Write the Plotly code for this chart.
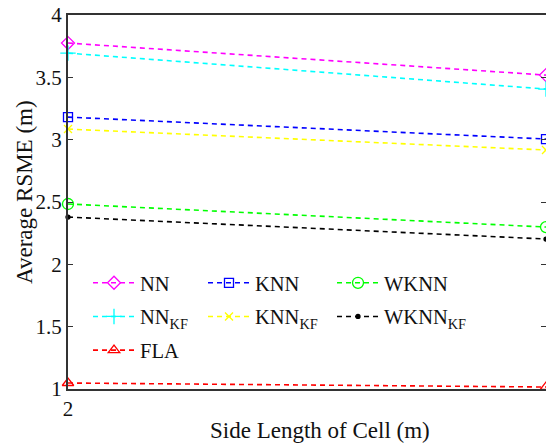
import plotly.graph_objects as go

x_vals = [2, 4]
names = ["NN", "KNN", "WKNN", "NN<sub>KF</sub>", "KNN<sub>KF</sub>", "WKNN<sub>KF</sub>", "FLA"]
nn = [3.775, 3.518]
knn = [3.181, 3.005]
wknn = [2.484, 2.299]
nn_kf = [3.694, 3.406]
knn_kf = [3.085, 2.917]
wknn_kf = [2.379, 2.203]
fla = [1.048, 1.016]
series = [nn, knn, wknn, nn_kf, knn_kf, wknn_kf, fla]
colors = ["#ff00ff", "#0000ff", "#00ff00", "#00ffff", "#ffff00", "#000000", "#ff0000"]
symbols = ["diamond-open", "square-open", "circle-open", "cross-thin-open", "x-thin-open", "circle", "triangle-up-open"]
sizes = [10, 9, 11, 11, 8, 4, 10]
legend_col = ["legend", "legend2", "legend3", "legend", "legend2", "legend3", "legend"]

FONT = "Liberation Serif"
fig = go.Figure()
for i, (n, s, c, sym, sz, lg) in enumerate(zip(names, series, colors, symbols, sizes, legend_col)):
    fig.add_trace(go.Scatter(
        x=x_vals, y=s, name=n, mode="lines+markers",
        line=dict(color=c, width=1.6, dash="5px,4px"),
        marker=dict(symbol=sym, size=sz, color=c, line=dict(color=c, width=1.3)),
        cliponaxis=False, legend=lg, legendgroup="g%d" % i,
    ))
# invisible trace to carry right-side ticks
fig.add_trace(go.Scatter(x=x_vals, y=[None, None], yaxis="y2", showlegend=False, hoverinfo="skip"))

def leg(xpx):
    return dict(orientation="v", x=(xpx - 68) / 478, y=0.337, xanchor="left", yanchor="top",
                bgcolor="rgba(0,0,0,0)", itemwidth=42, tracegroupgap=4,
                font=dict(family=FONT, size=20.5, color="#111"))

fig.update_layout(
    width=546, height=443,
    margin=dict(l=68, r=0, t=15, b=54),
    paper_bgcolor="white", plot_bgcolor="white",
    font=dict(family=FONT, size=20, color="#111"),
    xaxis=dict(range=[2, 4.0], tickvals=[2], ticktext=["2"], showgrid=False, zeroline=False,
               showline=True, linecolor="#333", linewidth=2, mirror=True,
               ticks="inside", ticklen=5, tickcolor="#333",
               tickfont=dict(family=FONT, size=21, color="#111")),
    yaxis=dict(range=[1, 4], tickvals=[1, 1.5, 2, 2.5, 3, 3.5, 4], ticktext=["1", "1.5", "2", "2.5", "3", "3.5", "4"],
               showgrid=False, zeroline=False, showline=True, linecolor="#333", linewidth=2,
               ticks="inside", ticklen=5, tickcolor="#333",
               tickfont=dict(family=FONT, size=21, color="#111")),
    yaxis2=dict(range=[1, 4], overlaying="y", side="right", showline=False, showgrid=False, zeroline=False,
                tickvals=[1, 1.5, 2, 2.5, 3, 3.5, 4], ticks="inside", ticklen=5, tickcolor="#333",
                showticklabels=False),
    legend=leg(88), legend2=leg(203), legend3=leg(332),
    annotations=[
        dict(text="Average RSME (m)", textangle=-90, xref="paper", yref="paper",
             x=(25 - 68) / 478, y=0.527, xanchor="center", yanchor="middle", showarrow=False,
             font=dict(family=FONT, size=23, color="#111")),
        dict(text="Side Length of Cell (m)", xref="paper", yref="paper",
             x=(320 - 68) / 478, y=(389 - 430) / 374, xanchor="center", yanchor="middle", showarrow=False,
             font=dict(family=FONT, size=23, color="#111")),
    ],
    showlegend=True,
)
fig.write_html("out.html")
